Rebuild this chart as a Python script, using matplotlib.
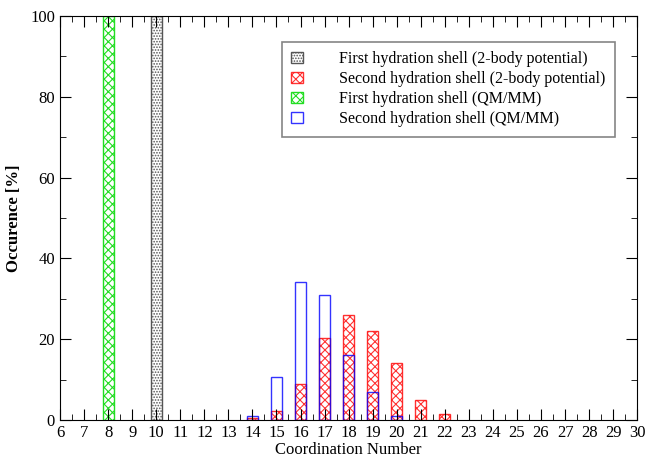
import matplotlib.pyplot as plt
import matplotlib as mpl

mpl.rcParams['font.family'] = 'Liberation Serif'
mpl.rcParams['hatch.linewidth'] = 0.8

# occurrence (%) per coordination number
first_2body_cn = [10]
first_2body = [100]
second_2body_cn = [14, 15, 16, 17, 18, 19, 20, 21, 22]
second_2body = [0.5, 2.2, 8.9, 20.3, 26.0, 22.0, 14.1, 5.0, 1.5]
first_qmmm_cn = [8]
first_qmmm = [100]
second_qmmm_cn = [14, 15, 16, 17, 18, 19, 20]
second_qmmm = [1.0, 10.6, 34.2, 30.9, 16.1, 6.9, 1.0]

fig = plt.figure(figsize=(6.45, 4.57), dpi=100)
ax = fig.add_axes([0.093, 0.081, 0.895, 0.884])

w = 0.45
ax.bar(first_2body_cn, first_2body, width=w, facecolor='white', edgecolor='#555555',
       hatch='......', linewidth=1, label='First hydration shell (2-body potential)')
ax.bar(second_2body_cn, second_2body, width=w, facecolor='white', edgecolor='red',
       hatch='xxxx', linewidth=1, alpha=0.8, label='Second hydration shell (2-body potential)')
ax.bar(first_qmmm_cn, first_qmmm, width=w, facecolor='white', edgecolor='#22dd22',
       hatch='xxxx', linewidth=1, label='First hydration shell (QM/MM)')
ax.bar(second_qmmm_cn, second_qmmm, width=w, facecolor='none', edgecolor='blue',
       linewidth=1, alpha=0.8, label='Second hydration shell (QM/MM)')

ax.set_xlim(6, 30)
ax.set_ylim(0, 100)
ax.set_xticks(range(6, 31))
ax.set_xticks([x + 0.5 for x in range(6, 30)], minor=True)
ax.set_yticks(range(0, 101, 20))
ax.set_yticks(range(10, 100, 20), minor=True)
ax.tick_params(which='both', direction='in', top=True, right=True, labelsize=12)
ax.tick_params(which='major', length=8)
ax.tick_params(which='minor', length=4)

ax.set_xlabel('Coordination Number', fontsize=12, labelpad=1)
ax.set_ylabel('Occurence [%]', fontsize=12, fontweight='bold', labelpad=6)

leg = ax.legend(loc='upper right', bbox_to_anchor=(0.962, 0.936), borderaxespad=0,
                fontsize=11.5, fancybox=False, edgecolor='#666666', handlelength=0.7,
                handleheight=0.7, labelspacing=0.25, borderpad=0.6, handletextpad=2.3)
leg.get_frame().set_linewidth(1.2)

fig.savefig('out.png', dpi=100)
